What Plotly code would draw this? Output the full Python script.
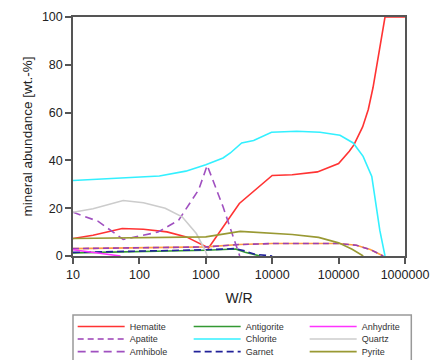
import plotly.graph_objects as go

# ---------------- data ----------------
hematite_x = [10, 20, 55, 115, 260, 510, 1100, 1800, 3200, 10000, 20000, 48000, 100000, 145000, 170000, 230000, 280000, 330000, 500000, 1000000]
hematite_y = [7.3, 8.7, 11.5, 11.2, 10.1, 8.0, 3.4, 12.2, 22.0, 33.7, 34.0, 35.2, 38.7, 43.8, 46.5, 54.0, 61.3, 70.5, 100, 100]

apatite_x = [10, 100, 1000, 3200, 10000, 100000, 185000, 300000, 470000]
apatite_y = [3.1, 3.3, 3.8, 4.8, 5.2, 5.2, 4.5, 2.7, 0]

amphibole_x = [10, 24, 57, 190, 390, 780, 1050, 1820, 3240]
amphibole_y = [18.3, 14.5, 6.9, 10.0, 15.0, 27.7, 37.9, 20.6, 0]

antigorite_x = [10, 100, 1000, 2800, 3900, 6600]
antigorite_y = [1.3, 1.7, 2.4, 2.9, 1.6, 0]

chlorite_x = [10, 20, 50, 100, 200, 500, 1000, 1820, 2340, 3470, 5250, 9770, 23400, 52500, 105000, 166000, 234000, 316000, 355000, 417000, 500000]
chlorite_y = [31.6, 32.0, 32.5, 32.8, 33.5, 35.5, 38.2, 41.0, 43.1, 47.3, 48.3, 51.8, 52.2, 51.8, 50.5, 47.3, 41.7, 33.3, 24.2, 10.8, 0]

garnet_x = [10, 100, 1000, 2800, 3900, 5500, 10000]
garnet_y = [1.5, 1.9, 2.6, 3.1, 2.1, 0.7, 0]

anhydrite_x = [10, 52]
anhydrite_y = [2.6, 0]

quartz_x = [10, 20, 57, 115, 245, 440, 720, 980, 1050]
quartz_y = [18.3, 19.8, 23.2, 22.3, 20.0, 16.4, 9.4, 2.4, 0]

pyrite_x = [10, 100, 1000, 3300, 10000, 20000, 50000, 100000, 160000, 235000]
pyrite_y = [7.3, 7.7, 8.0, 10.3, 9.4, 9.0, 7.8, 5.5, 2.8, 0]

x_tickvals = [10, 100, 1000, 10000, 100000, 1000000]
x_ticktext = ["10", "100", "1000", "10000", "100000", "1000000"]
y_tickvals = [0, 20, 40, 60, 80, 100]

# ---------------- figure ----------------
FONT = "Liberation Sans, Arial, sans-serif"
fig = go.Figure()

def add(x, y, name, color, dash="solid", legend="legend", showlegend=True, width=1.6):
    fig.add_trace(go.Scatter(
        x=x, y=y, mode="lines", name=name,
        line=dict(color=color, width=width, dash=dash),
        legend=legend, showlegend=showlegend,
    ))

add(hematite_x, hematite_y, "Hematite", "#ff3333", legend="legend")
add(apatite_x, apatite_y, "Apatite", "#ffa040", legend="legend2", showlegend=False)
add(apatite_x, apatite_y, "Apatite", "#9b3fb5", dash="6px,4px", legend="legend2")
add(amphibole_x, amphibole_y, "Amhibole", "#a050c0", dash="8px,5px", legend="legend3")
add(antigorite_x, antigorite_y, "Antigorite", "#339933", legend="legend")
add(chlorite_x, chlorite_y, "Chlorite", "#33f0ff", legend="legend2")
add(garnet_x, garnet_y, "Garnet", "#222299", dash="7px,4px", legend="legend3")
add(anhydrite_x, anhydrite_y, "Anhydrite", "#ff33ff", legend="legend")
add(quartz_x, quartz_y, "Quartz", "#cccccc", legend="legend2")
add(pyrite_x, pyrite_y, "Pyrite", "#999933", legend="legend3")

axis_common = dict(
    showline=True, linecolor="#555555", linewidth=1.5, mirror=True,
    ticks="outside", ticklen=6, tickwidth=1.5, tickcolor="#555555",
    showgrid=False, zeroline=False,
    tickfont=dict(family=FONT, size=12.5, color="#222222"),
    layer="below traces",
)

fig.update_xaxes(
    type="log", range=[1, 6], tickvals=x_tickvals, ticktext=x_ticktext,
    title=dict(text="W/R", font=dict(family=FONT, size=14, color="#222222"), standoff=12),
    **axis_common,
)
fig.update_yaxes(
    range=[0, 100], tickvals=y_tickvals,
    title=dict(text="mineral abundance [wt.-%]", font=dict(family=FONT, size=13.5, color="#222222"), standoff=6),
    **axis_common,
)

leg_common = dict(
    orientation="h", xanchor="left", yanchor="middle",
    bgcolor="rgba(0,0,0,0)", borderwidth=0,
    font=dict(family=FONT, size=9, color="#333333"),
    entrywidth=54, entrywidthmode="pixels", itemwidth=47,
    traceorder="normal",
)
fig.update_layout(
    width=433, height=360,
    margin=dict(l=73, r=28, t=17, b=104, autoexpand=False),
    paper_bgcolor="white", plot_bgcolor="white",
    legend=dict(x=-0.001, y=-0.295, **leg_common),
    legend2=dict(x=-0.001, y=-0.347, **leg_common),
    legend3=dict(x=-0.001, y=-0.400, **leg_common),
    shapes=[dict(type="rect", xref="paper", yref="paper",
                 x0=0.0, x1=1.019, y0=-0.247, y1=-0.5,
                 line=dict(color="#999999", width=1.5), layer="below")],
)

fig.write_html("out.html", config={"displayModeBar": False},
               post_script="document.body.style.margin='0px';")
